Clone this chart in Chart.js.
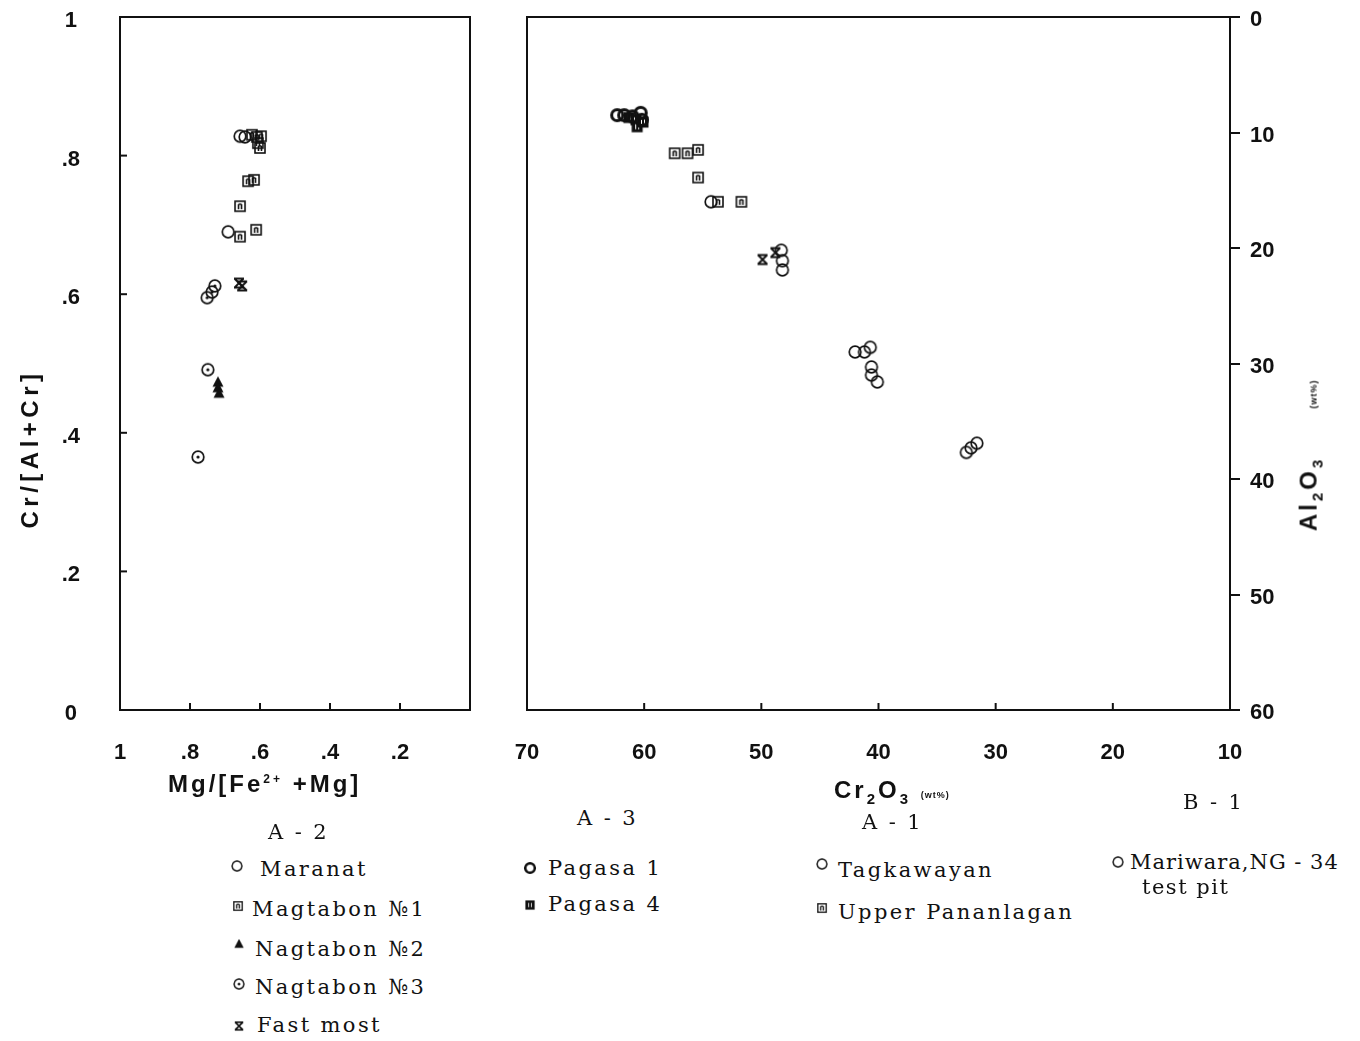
<!DOCTYPE html>
<html>
<head>
<meta charset="utf-8">
<script src="https://cdn.jsdelivr.net/npm/chart.js@4.4.0/dist/chart.umd.min.js"></script>
<style>
  body { margin: 0; background: #fff; width: 1360px; height: 1041px; position: relative; overflow: hidden; color: #111; font-family: "DejaVu Serif", "Liberation Serif", serif; }
  #leftWrap { position: absolute; left: 0; top: 0; width: 480px; height: 800px; }
  #rightWrap { position: absolute; left: 500px; top: 0; width: 860px; height: 800px; }
  .t { position: absolute; white-space: nowrap; }
  .ax { font-family: "Liberation Sans", Arial, sans-serif; font-weight: bold; font-size: 24px; letter-spacing: 3px; }
  .lg { font-size: 21px; letter-spacing: 2.4px; line-height: 24px; }
  .ic { position: absolute; }
  .small { font-size: 9px; letter-spacing: 1px; font-weight: bold; }
</style>
</head>
<body>
<div id="leftWrap"><canvas id="leftChart" width="480" height="800"></canvas></div>
<div id="rightWrap"><canvas id="rightChart" width="860" height="800"></canvas></div>

<!-- axis titles -->
<div class="t ax" style="left:-65px; top:435px; transform:rotate(-90deg); width:190px; text-align:center; letter-spacing:4.5px;">Cr/[Al+Cr]</div>
<div class="t ax" style="left:168px; top:770px;">Mg/[Fe<sup style="font-size:12px">2+</sup> +Mg]</div>
<div class="t ax" style="left:834px; top:776px;">Cr<sub style="font-size:15px">2</sub>O<sub style="font-size:15px">3</sub> <span class="small">(wt%)</span></div>
<div class="t ax" style="left:1230px; top:440px; transform:rotate(-90deg); width:160px; text-align:center;">Al<sub style="font-size:15px">2</sub>O<sub style="font-size:15px">3</sub> &nbsp;&nbsp;&nbsp;&nbsp;<span class="small">(wt%)</span></div>

<!-- legends -->
<div class="t lg" style="left:268px; top:820px;">A - 2</div>
<div class="t lg" style="left:260px; top:857px;">Maranat</div>
<div class="t lg" style="left:252px; top:897px;">Magtabon №1</div>
<div class="t lg" style="left:255px; top:937px;">Nagtabon №2</div>
<div class="t lg" style="left:255px; top:975px;">Nagtabon №3</div>
<div class="t lg" style="left:257px; top:1013px;">Fast most</div>

<div class="t lg" style="left:577px; top:806px;">A - 3</div>
<div class="t lg" style="left:548px; top:856px;">Pagasa 1</div>
<div class="t lg" style="left:548px; top:892px;">Pagasa 4</div>

<div class="t lg" style="left:862px; top:810px;">A - 1</div>
<div class="t lg" style="left:838px; top:858px;">Tagkawayan</div>
<div class="t lg" style="left:838px; top:900px;">Upper Pananlagan</div>

<div class="t lg" style="left:1183px; top:790px;">B - 1</div>
<div class="t lg" style="left:1130px; top:850px; letter-spacing:1px;">Mariwara,NG - 34</div>
<div class="t lg" style="left:1142px; top:875px; letter-spacing:1.5px;">test pit</div>

<script>
// ---- left panel: Cr/(Al+Cr) vs Mg/(Fe2+ + Mg)
const maranatX = [0.657, 0.643, 0.691];
const maranatY = [0.828, 0.827, 0.690];
const magtabon1X = [0.623, 0.609, 0.597, 0.606, 0.600, 0.634, 0.617, 0.657, 0.657, 0.611];
const magtabon1Y = [0.830, 0.827, 0.828, 0.818, 0.811, 0.763, 0.765, 0.727, 0.683, 0.693];
const nagtabon2X = [0.720, 0.720, 0.717];
const nagtabon2Y = [0.473, 0.465, 0.457];
const nagtabon3X = [0.751, 0.737, 0.729, 0.749, 0.777];
const nagtabon3Y = [0.595, 0.603, 0.612, 0.491, 0.365];
const fastMostX = [0.660, 0.651];
const fastMostY = [0.616, 0.612];

// ---- right panel: Al2O3 vs Cr2O3 (wt%)
const pagasa1X = [62.3, 61.7, 61.0, 60.3, 60.2];
const pagasa1Y = [8.5, 8.5, 8.6, 8.3, 8.9];
const pagasa4X = [61.3, 60.7, 60.6, 60.1];
const pagasa4Y = [8.7, 8.9, 9.5, 9.1];
const pananlaganX = [57.4, 56.3, 55.4, 55.4, 53.7, 51.7];
const pananlaganY = [11.8, 11.8, 11.5, 13.9, 16.0, 16.0];
const tagkawayanX = [54.3, 48.3, 48.2, 48.2, 42.0, 41.2, 40.7, 40.6, 40.6, 40.1];
const tagkawayanY = [16.0, 20.2, 21.1, 21.9, 29.0, 29.0, 28.6, 30.3, 31.0, 31.6];
const crossX = [49.9, 48.8];
const crossY = [21.0, 20.4];
const mariwaraX = [32.5, 32.1, 31.6];
const mariwaraY = [37.7, 37.3, 36.9];

const fracTicks = [0, 0.2, 0.4, 0.6, 0.8, 1];
const pctTicks = [10, 20, 30, 40, 50, 60, 70];
const al2o3Ticks = [0, 10, 20, 30, 40, 50, 60];

const INK = "#111";
const tickFont = { family: "'Liberation Sans', Arial, sans-serif", size: 22, weight: "bold" };

function pts(xs, ys) {
    return xs.map((x, i) => ({ x: x, y: ys[i] }));
}

// small marker images
function icon(kind) {
    const c = document.createElement("canvas");
    c.width = 18; c.height = 18;
    const g = c.getContext("2d");
    g.strokeStyle = INK; g.fillStyle = INK;
    g.lineWidth = 1.7;
    if (kind === "circle") {
        g.beginPath(); g.arc(9, 9, 5.8, 0, Math.PI * 2); g.stroke();
    } else if (kind === "boldCircle") {
        g.lineWidth = 3;
        g.beginPath(); g.arc(9, 9, 5.6, 0, Math.PI * 2); g.stroke();
    } else if (kind === "dotCircle") {
        g.beginPath(); g.arc(9, 9, 5.8, 0, Math.PI * 2); g.stroke();
        g.beginPath(); g.arc(9, 9, 1.6, 0, Math.PI * 2); g.fill();
    } else if (kind === "square") {
        g.lineWidth = 1.6;
        g.strokeRect(4, 4, 10, 10);
        g.beginPath(); g.moveTo(7.5, 7); g.lineTo(7.5, 12); g.moveTo(10.5, 7); g.lineTo(10.5, 12); g.moveTo(7.5, 7); g.lineTo(10.5, 7); g.stroke();
    } else if (kind === "darkSquare") {
        g.fillRect(3.5, 3.5, 11, 11);
        g.strokeStyle = "#fff"; g.lineWidth = 1;
        g.beginPath(); g.moveTo(7.5, 6.5); g.lineTo(7.5, 11.5); g.moveTo(10.5, 6.5); g.lineTo(10.5, 11.5); g.stroke();
    } else if (kind === "triangle") {
        g.beginPath(); g.moveTo(9, 3); g.lineTo(14.5, 13.5); g.lineTo(3.5, 13.5); g.closePath(); g.fill();
    } else if (kind === "cross") {
        g.lineWidth = 1.9;
        g.beginPath();
        g.moveTo(4.5, 4.5); g.lineTo(13.5, 13.5); g.moveTo(13.5, 4.5); g.lineTo(4.5, 13.5);
        g.moveTo(4, 4.5); g.lineTo(14, 4.5); g.moveTo(4, 13.5); g.lineTo(14, 13.5);
        g.stroke();
    }
    return c;
}

function placeIcon(kind, x, y) {
    const c = icon(kind);
    c.className = "ic";
    c.style.left = (x - 9) + "px";
    c.style.top = (y - 9) + "px";
    c.style.transform = "scale(0.85)";
    document.body.appendChild(c);
}

function series(label, xs, ys, kind) {
    return {
        label: label,
        data: pts(xs, ys),
        pointStyle: icon(kind),
        showLine: false
    };
}

// fixed axis box sizes, no automatic label padding
function fixBox(w, h) {
    return s => {
        if (w !== null) s.width = w;
        if (h !== null) s.height = h;
        s.paddingTop = 0; s.paddingBottom = 0; s.paddingLeft = 0; s.paddingRight = 0;
    };
}

// frame + inward tick marks
const framePlugin = {
    id: "frame",
    afterDraw(chart, args, opts) {
        const g = chart.ctx;
        const a = chart.chartArea;
        g.save();
        g.strokeStyle = INK;
        g.lineWidth = 2;
        g.strokeRect(a.left, a.top, a.right - a.left, a.bottom - a.top);
        (opts.inward || []).forEach(id => {
            const s = chart.scales[id];
            s.ticks.forEach(t => {
                const p = s.getPixelForValue(t.value);
                g.beginPath();
                if (s.isHorizontal()) {
                    g.moveTo(p, a.bottom); g.lineTo(p, a.bottom - 7);
                } else {
                    g.moveTo(a.left, p); g.lineTo(a.left + 7, p);
                }
                g.stroke();
            });
        });
        g.restore();
    }
};

Chart.defaults.animation = false;
Chart.defaults.color = INK;

function fracLabel(v) {
    if (v === 0) return "0";
    if (Math.abs(v - 1) < 1e-9) return "1";
    return "." + Math.round(v * 10);
}

new Chart(document.getElementById("leftChart"), {
    type: "scatter",
    data: {
        datasets: [
            series("Maranat", maranatX, maranatY, "circle"),
            series("Magtabon No1", magtabon1X, magtabon1Y, "square"),
            series("Nagtabon No2", nagtabon2X, nagtabon2Y, "triangle"),
            series("Nagtabon No3", nagtabon3X, nagtabon3Y, "dotCircle"),
            series("Fast most", fastMostX, fastMostY, "cross")
        ]
    },
    options: {
        responsive: false,
        layout: { padding: { top: 17, right: 10, left: 0, bottom: 0 } },
        plugins: {
            legend: { display: false },
            tooltip: { enabled: false },
            frame: { inward: ["x", "y"] }
        },
        scales: {
            x: {
                type: "linear", min: 0, max: 1, reverse: true,
                grid: { display: false }, border: { display: false },
                afterBuildTicks: s => { s.ticks = fracTicks.map(v => ({ value: v })); },
                afterFit: fixBox(null, 90),
                ticks: {
                    padding: 22, font: tickFont, maxRotation: 0, autoSkip: false,
                    callback: v => (v === 0 ? "" : fracLabel(v))
                }
            },
            y: {
                type: "linear", min: 0, max: 1,
                grid: { display: false }, border: { display: false },
                afterBuildTicks: s => { s.ticks = fracTicks.map(v => ({ value: v })); },
                afterFit: fixBox(120, null),
                ticks: {
                    padding: 32, crossAlign: "center", labelOffset: 4, font: tickFont, autoSkip: false,
                    callback: v => fracLabel(v)
                }
            }
        }
    },
    plugins: [framePlugin]
});

new Chart(document.getElementById("rightChart"), {
    type: "scatter",
    data: {
        datasets: [
            series("Pagasa 1", pagasa1X, pagasa1Y, "boldCircle"),
            series("Pagasa 4", pagasa4X, pagasa4Y, "darkSquare"),
            series("Upper Pananlagan", pananlaganX, pananlaganY, "square"),
            series("Tagkawayan", tagkawayanX, tagkawayanY, "circle"),
            series("x", crossX, crossY, "cross"),
            series("Mariwara, NG-34 test pit", mariwaraX, mariwaraY, "circle")
        ]
    },
    options: {
        responsive: false,
        layout: { padding: { top: 17, right: 0, left: 27, bottom: 0 } },
        plugins: {
            legend: { display: false },
            tooltip: { enabled: false },
            frame: { inward: ["x"] }
        },
        scales: {
            x: {
                type: "linear", min: 10, max: 70, reverse: true,
                grid: { display: false }, border: { display: false },
                afterBuildTicks: s => { s.ticks = pctTicks.map(v => ({ value: v })); },
                afterFit: fixBox(null, 90),
                ticks: { padding: 22, font: tickFont, maxRotation: 0, autoSkip: false }
            },
            y: {
                type: "linear", position: "right", min: 0, max: 60, reverse: true,
                grid: { display: true, drawOnChartArea: false, drawTicks: true, tickLength: 10, color: INK, lineWidth: 2 },
                border: { display: true, color: INK, width: 2 },
                afterBuildTicks: s => { s.ticks = al2o3Ticks.map(v => ({ value: v })); },
                afterFit: fixBox(130, null),
                ticks: { padding: 10, labelOffset: 3, font: tickFont, autoSkip: false }
            }
        }
    },
    plugins: [framePlugin]
});

// legend markers
placeIcon("circle", 237, 866);
placeIcon("square", 238, 906);
placeIcon("triangle", 239, 944);
placeIcon("dotCircle", 239, 984);
placeIcon("cross", 239, 1026);
placeIcon("boldCircle", 530, 868);
placeIcon("darkSquare", 530, 905);
placeIcon("circle", 822, 864);
placeIcon("square", 822, 908);
placeIcon("circle", 1118, 862);
</script>
</body>
</html>
